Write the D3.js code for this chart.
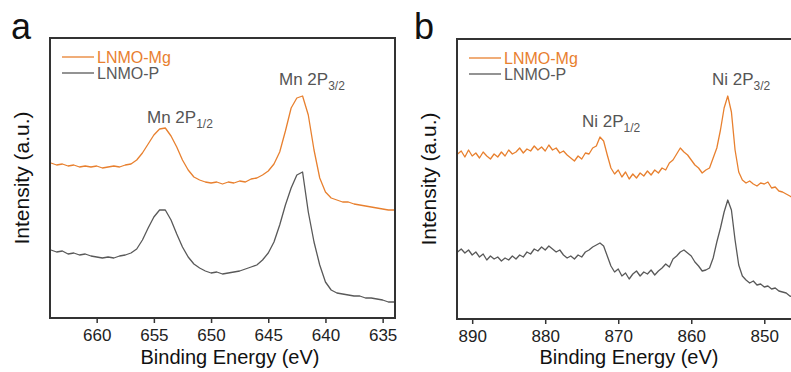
<!DOCTYPE html>
<html>
<head>
<meta charset="utf-8">
<script src="https://cdn.jsdelivr.net/npm/d3@7"></script>
<style>
  body { margin: 0; background: #fff; }
  svg { display: block; font-family: "Liberation Sans", Arial, Helvetica, sans-serif; }
</style>
</head>
<body>
<div id="chart"></div>
<script>
// Mn 2p spectra (binding energy in eV, intensity in a.u.)
const mnEnergy = [664, 663.5, 663, 662.5, 662, 661.5, 661, 660.5, 660, 659.5, 659, 658.5, 658, 657.5, 657, 656.5,
  656, 655.5, 655, 654.5, 654, 653.5, 653, 652.5, 652, 651.5, 651, 650.5, 650, 649.5, 649, 648.5, 648, 647.5,
  647, 646.5, 646, 645.5, 645, 644.5, 644, 643.5, 643, 642.5, 642, 641.5, 641, 640.5, 640, 639.5, 639, 638.5,
  638, 637.5, 637, 636.5, 636, 635.5, 635, 634.5, 634];
const mnMg = [155, 153, 154, 152, 153, 151, 152, 151, 152, 150, 151, 152, 151, 153, 154, 158,
  165, 174, 183, 189, 190, 182, 171, 158, 148, 141, 138, 136, 135, 136, 134, 136, 135, 137,
  136, 139, 140, 143, 147, 154, 166, 187, 210, 220, 222, 203, 168, 140, 126, 120, 118, 116,
  116, 114, 113, 112, 111, 110, 109, 108, 108];
const mnP = [68, 66, 67, 64, 65, 63, 64, 62, 61, 60, 61, 60, 62, 63, 65, 69,
  78, 90, 101, 108, 108, 98, 84, 71, 61, 54, 50, 47, 45, 46, 44, 45, 46, 47,
  49, 51, 53, 58, 65, 76, 93, 113, 130, 143, 146, 106, 76, 53, 36, 28, 25, 24,
  23, 22, 22, 20, 20, 19, 18, 16, 16];

// Ni 2p spectra
const niEnergy = [892, 891.5, 891, 890.5, 890, 889.5, 889, 888.5, 888, 887.5, 887, 886.5, 886, 885.5, 885, 884.5,
  884, 883.5, 883, 882.5, 882, 881.5, 881, 880.5, 880, 879.5, 879, 878.5, 878, 877.5, 877, 876.5,
  876, 875.5, 875, 874.5, 874, 873.5, 873, 872.5, 872, 871.5, 871, 870.5, 870, 869.5, 869, 868.5,
  868, 867.5, 867, 866.5, 866, 865.5, 865, 864.5, 864, 863.5, 863, 862.5, 862, 861.5, 861, 860.5,
  860, 859.5, 859, 858.5, 858, 857.5, 857, 856.5, 856, 855.5, 855, 854.5, 854, 853.5, 853, 852.5,
  852, 851.5, 851, 850.5, 850, 849.5, 849, 848.5, 848, 847.5, 847, 846.5, 846];
const niMg = [165, 168, 162, 169, 163, 166, 161, 167, 163, 160, 165, 162, 167, 163, 169, 165,
  167, 171, 166, 170, 168, 173, 169, 172, 168, 174, 169, 171, 166, 168, 164, 161,
  158, 163, 160, 166, 165, 171, 173, 182, 178, 164, 151, 145, 149, 142, 147, 140,
  145, 141, 146, 143, 148, 144, 149, 146, 151, 149, 156, 159, 165, 171, 167, 164,
  159, 154, 151, 146, 149, 151, 161, 171, 189, 211, 223, 207, 169, 147, 139, 136,
  138, 135, 133, 136, 135, 137, 131, 132, 128, 127, 125, 123, 121];
const niP = [67, 70, 66, 69, 64, 67, 62, 65, 59, 63, 60, 62, 58, 61, 59, 63,
  60, 64, 62, 67, 65, 70, 68, 72, 69, 73, 70, 67, 69, 64, 61, 63,
  60, 64, 62, 67, 69, 72, 74, 76, 73, 63, 53, 47, 50, 43, 46, 40,
  45, 48, 43, 47, 45, 49, 44, 48, 51, 55, 52, 60, 63, 67, 69, 66,
  63, 57, 53, 48, 49, 51, 61, 77, 91, 107, 119, 109, 79, 54, 43, 39,
  36, 38, 34, 35, 32, 33, 30, 31, 28, 27, 26, 23, 22];

const seriesNames = ['LNMO-Mg', 'LNMO-P'];
const seriesColors = ['#e8802f', '#595959'];
const mnTicks = [660, 655, 650, 645, 640, 635];
const niTicks = [890, 880, 870, 860, 850];

const W = 791, H = 372;
const svg = d3.select('#chart').append('svg')
  .attr('width', W)
  .attr('height', H);

function drawPanel(p) {
  const g = svg.append('g').attr('transform', `translate(${p.left},${p.top})`);

  const x = d3.scaleLinear().domain(p.xDomain).range([0, p.width]);
  const y = d3.scaleLinear().domain([0, 280]).range([p.height, 0]);

  // clip so the curves stay inside the frame
  g.append('clipPath').attr('id', 'clip-' + p.letter)
    .append('rect').attr('width', p.width).attr('height', p.height);

  const line = d3.line()
    .x((d, i) => x(p.energy[i]))
    .y(d => y(d));

  const curves = g.append('g').attr('clip-path', `url(#clip-${p.letter})`);
  p.series.forEach((s, k) => {
    curves.append('path')
      .datum(s)
      .attr('fill', 'none')
      .attr('stroke', seriesColors[k])
      .attr('stroke-width', 1.3)
      .attr('stroke-linejoin', 'round')
      .attr('d', line);
  });

  // bottom axis, ticks outward
  const axis = g.append('g')
    .attr('transform', `translate(0,${p.height})`)
    .call(d3.axisBottom(x).tickValues(p.ticks).tickSize(5).tickSizeOuter(0).tickPadding(6));
  axis.select('.domain').remove();
  axis.selectAll('line').attr('stroke', '#333').attr('stroke-width', 1.5);
  axis.selectAll('text').attr('font-size', 17).attr('fill', '#222')
    .attr('font-family', '"Liberation Sans", Arial, sans-serif');

  // frame
  g.append('rect')
    .attr('width', p.width)
    .attr('height', p.height)
    .attr('fill', 'none')
    .attr('stroke', '#333')
    .attr('stroke-width', 2);

  // legend
  seriesNames.forEach((name, k) => {
    const ly = 19 + k * 16;
    g.append('line')
      .attr('x1', 12).attr('x2', 44)
      .attr('y1', ly).attr('y2', ly)
      .attr('stroke', seriesColors[k])
      .attr('stroke-width', 1.3);
    g.append('text')
      .attr('x', 47).attr('y', ly + 6)
      .attr('font-size', 16)
      .attr('fill', seriesColors[k])
      .text(name);
  });

  // peak labels
  p.peaks.forEach(pk => {
    const t = g.append('text')
      .attr('x', pk.x - p.left).attr('y', pk.y - p.top)
      .attr('font-size', 17)
      .attr('fill', '#555');
    t.append('tspan').text(pk.label);
    t.append('tspan').attr('font-size', 12).attr('dy', 5).text(pk.sub);
  });

  // axis titles
  svg.append('text')
    .attr('x', p.titleX).attr('y', 364)
    .attr('text-anchor', 'middle')
    .attr('font-size', 20)
    .attr('fill', '#111')
    .text('Binding Energy (eV)');

  svg.append('text')
    .attr('transform', `translate(${p.left - 28},${p.top + p.height / 2}) rotate(-90)`)
    .attr('text-anchor', 'middle')
    .attr('dy', '0.35em')
    .attr('font-size', 21)
    .attr('fill', '#111')
    .text('Intensity (a.u.)');

  // panel letter
  svg.append('text')
    .attr('x', p.letterX).attr('y', 39)
    .attr('font-size', 36)
    .attr('fill', '#111')
    .text(p.letter);
}

drawPanel({
  letter: 'a', letterX: 11,
  left: 50, top: 38, width: 345, height: 280,
  xDomain: [664.08, 633.92],
  ticks: mnTicks,
  energy: mnEnergy,
  series: [mnMg, mnP],
  titleX: 230,
  peaks: [
    { label: 'Mn 2P', sub: '1/2', x: 147, y: 123 },
    { label: 'Mn 2P', sub: '3/2', x: 279, y: 85 }
  ]
});

drawPanel({
  letter: 'b', letterX: 414,
  left: 457, top: 39, width: 337, height: 280,
  xDomain: [892.08, 845.93],
  ticks: niTicks,
  energy: niEnergy,
  series: [niMg, niP],
  titleX: 629,
  peaks: [
    { label: 'Ni 2P', sub: '1/2', x: 582, y: 127 },
    { label: 'Ni 2P', sub: '3/2', x: 712, y: 85 }
  ]
});
</script>
</body>
</html>
